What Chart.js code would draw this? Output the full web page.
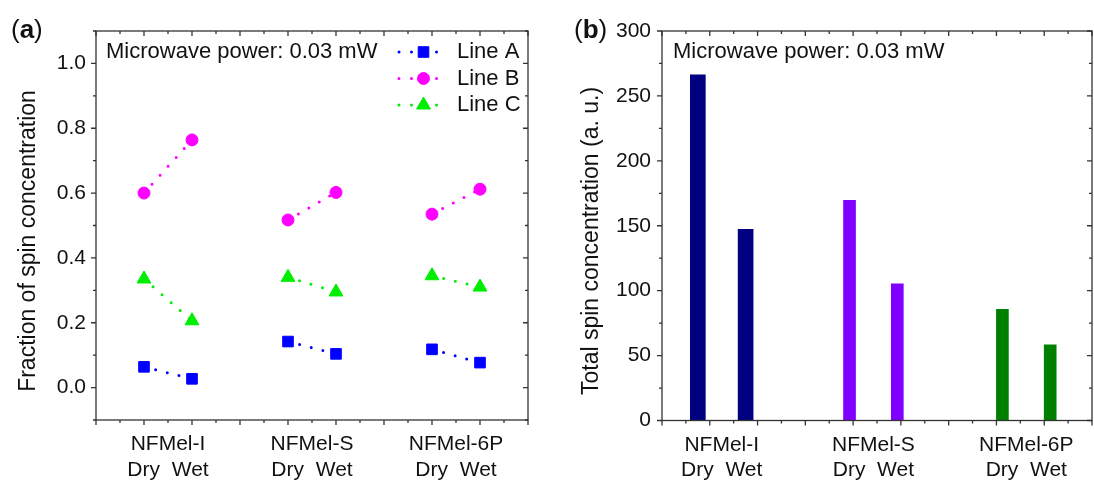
<!DOCTYPE html>
<html>
<head>
<meta charset="utf-8">
<script src="https://cdn.jsdelivr.net/npm/chart.js@4.4.0/dist/chart.umd.min.js"></script>
<style>
    body { margin: 0; background: #fff; }
    .box { position: absolute; top: 0; width: 547px; height: 483px; }
    #boxA { left: 0; }
    #boxB { left: 547px; }
</style>
</head>
<body>
<div class="box" id="boxA"><canvas id="chartA"></canvas></div>
<div class="box" id="boxB"><canvas id="chartB"></canvas></div>
<script>
// ---------------- DATA ----------------
const groups = ["NFMel-I", "NFMel-S", "NFMel-6P"];
const states = "Dry  Wet";
const note = "Microwave power: 0.03 mW";

// panel (a): Dry / Wet positions on the x axis
const xA = [2, 4, 8, 10, 14, 16];
const lineA = [0.064, 0.027, 0.142, 0.104, 0.118, 0.077];
const lineB = [0.600, 0.764, 0.517, 0.602, 0.535, 0.612];
const lineC = [0.335, 0.206, 0.340, 0.295, 0.345, 0.310];
const seriesNames = ["Line A", "Line B", "Line C"];
const ticksA = [0, 0.2, 0.4, 0.6, 0.8, 1.0];

// panel (b)
const xB = [1.5, 3.5, 7.85, 9.85, 14.25, 16.25];
const totalSpin = [266.2, 147.3, 169.6, 105.2, 85.7, 58.2];
const ticksB = [0, 50, 100, 150, 200, 250, 300];

const FONT = "'Liberation Sans', Arial, sans-serif";
const INK = "#111";
Chart.defaults.font.family = FONT;
Chart.defaults.color = INK;

const lineColors = ["#0000ff", "#ff00ff", "#00ee00"];
const pointStyles = ["rect", "circle", "triangle"];
const pointSizes = [7.5, 6, 8];
const barColors = ["#000080", "#8000ff", "#008000"];
const barWidths = [15, 12, 12];

function pairCenters(xs) {
    return groups.map((g, i) => (xs[2 * i] + xs[2 * i + 1]) / 2);
}

// ---------------- FRAME + TICKS ----------------
const framePlugin = {
    id: "frame",
    afterDraw(chart, args, opts) {
        const ctx = chart.ctx, a = chart.chartArea;
        const xs = chart.scales.x, ys = chart.scales.y;
        ctx.save();
        ctx.strokeStyle = "#333";
        ctx.lineWidth = 1.3;
        ctx.strokeRect(a.left, a.top, a.right - a.left, a.bottom - a.top);
        ctx.beginPath();
        // x ticks: outward at bottom, inward at top
        let n = Math.round((xs.max - xs.min) / opts.xStep);
        for (let i = 0; i <= n; i++) {
            const px = xs.getPixelForValue(xs.min + i * opts.xStep);
            const len = i % 2 === 0 ? 5 : 3;
            ctx.moveTo(px, a.bottom); ctx.lineTo(px, a.bottom + len);
            ctx.moveTo(px, a.top); ctx.lineTo(px, a.top + len);
        }
        // y ticks: outward at left, inward at right
        n = Math.round((ys.max - ys.min) / opts.yStep);
        for (let i = 0; i <= n; i++) {
            const v = ys.min + i * opts.yStep;
            const r = v / opts.yMajor;
            const major = Math.abs(r - Math.round(r)) < 1e-6;
            const py = ys.getPixelForValue(v);
            const len = major ? 5 : 3;
            ctx.moveTo(a.left, py); ctx.lineTo(a.left - len, py);
            ctx.moveTo(a.right, py); ctx.lineTo(a.right - len, py);
        }
        ctx.stroke();
        ctx.restore();
    }
};

// ---------------- LABELS / LEGEND ----------------
const decorPlugin = {
    id: "decor",
    afterDraw(chart, args, opts) {
        const ctx = chart.ctx;
        ctx.save();
        ctx.fillStyle = INK;
        ctx.textBaseline = "middle";
        // panel letter, "(" normal, letter bold, ")" normal
        let x = opts.letterX;
        ctx.font = "26px " + FONT;
        ctx.fillText("(", x, 31); x += ctx.measureText("(").width;
        ctx.font = "bold 26px " + FONT;
        ctx.fillText(opts.letter, x, 31); x += ctx.measureText(opts.letter).width;
        ctx.font = "26px " + FONT;
        ctx.fillText(")", x, 31);

        ctx.font = "22px " + FONT;
        ctx.fillText(note, opts.noteX, 52);

        // y axis title (rotated), centred a bit below the axis middle like the original
        ctx.save();
        ctx.font = "23px " + FONT;
        ctx.textAlign = "center";
        ctx.translate(opts.titleX, 241);
        ctx.rotate(-Math.PI / 2);
        ctx.fillText(opts.title, 0, 0);
        ctx.restore();

        if (opts.legend) {
            const rows = [52, 78.5, 105];
            chart.data.datasets.forEach((ds, i) => {
                const y = rows[i];
                ctx.save();
                ctx.strokeStyle = ds.borderColor;
                ctx.lineWidth = 3;
                ctx.lineCap = "round";
                ctx.setLineDash([0, 12.5]);
                ctx.beginPath();
                ctx.moveTo(399, y); ctx.lineTo(438, y);
                ctx.stroke();
                ctx.restore();
                ctx.fillStyle = ds.pointBackgroundColor;
                ctx.strokeStyle = ds.pointBackgroundColor;
                Chart.helpers.drawPoint(ctx, {
                    pointStyle: ds.pointStyle, radius: ds.pointRadius, borderWidth: 1
                }, 423.5, y);
                ctx.fillStyle = INK;
                ctx.fillText(ds.label, 457, y);
            });
        }
        ctx.restore();
    }
};

function groupTicks(centers) {
    return function (scale) {
        scale.ticks = centers.map(v => ({ value: v }));
    };
}

const noGrid = { display: false, drawTicks: false, tickLength: 0 };

// ---------------- PANEL (a) ----------------
function initChartA() {
    const series = [lineA, lineB, lineC];
    const datasets = series.map((vals, s) => ({
        label: seriesNames[s],
        data: vals.map((v, i) => ({ x: xA[i], y: v })),
        borderColor: lineColors[s],
        borderWidth: 3,
        borderDash: [0, 12],
        borderCapStyle: "round",
        pointStyle: pointStyles[s],
        pointRadius: pointSizes[s],
        pointBackgroundColor: lineColors[s],
        pointBorderColor: lineColors[s],
        pointBorderWidth: 1,
        segment: {
            borderColor: c => Math.floor(c.p0DataIndex / 2) === Math.floor(c.p1DataIndex / 2)
                ? lineColors[s] : "rgba(0,0,0,0)"
        }
    }));

    new Chart(document.getElementById("chartA"), {
        type: "line",
        data: { datasets: datasets },
        options: {
            responsive: true,
            maintainAspectRatio: false,
            animation: false,
            layout: { padding: { left: 0, top: 31, right: 19, bottom: 0 } },
            plugins: {
                legend: { display: false },
                tooltip: { enabled: false },
                frame: { xStep: 1, yStep: 0.1, yMajor: 0.2 },
                decor: {
                    letter: "a", letterX: 11, noteX: 106, legend: true,
                    title: "Fraction of spin concentration", titleX: 29
                }
            },
            scales: {
                x: {
                    type: "linear", min: 0, max: 18,
                    grid: noGrid, border: { display: false },
                    afterBuildTicks: groupTicks(pairCenters(xA)),
                    afterFit: s => { s.height = 63; },
                    ticks: {
                        autoSkip: false, maxRotation: 0, padding: 12,
                        font: { size: 21 }, color: INK,
                        callback: (v, i) => [groups[i], states]
                    }
                },
                y: {
                    min: -0.1, max: 1.1,
                    grid: noGrid, border: { display: false },
                    afterBuildTicks: s => { s.ticks = ticksA.map(v => ({ value: v })); },
                    afterFit: s => { s.width = 96; },
                    ticks: {
                        padding: 10, font: { size: 21 }, color: INK,
                        callback: v => v.toFixed(1)
                    }
                }
            }
        },
        plugins: [framePlugin, decorPlugin]
    });
}

// ---------------- PANEL (b) ----------------
function initChartB() {
    const datasets = barColors.map((c, g) => ({
        label: groups[g],
        data: [0, 1].map(k => ({ x: xB[2 * g + k], y: totalSpin[2 * g + k] })),
        backgroundColor: c,
        barThickness: barWidths[g],
        grouped: false
    }));

    new Chart(document.getElementById("chartB"), {
        type: "bar",
        data: { datasets: datasets },
        options: {
            responsive: true,
            maintainAspectRatio: false,
            animation: false,
            layout: { padding: { left: 0, top: 31, right: 2, bottom: 0 } },
            plugins: {
                legend: { display: false },
                tooltip: { enabled: false },
                frame: { xStep: 1, yStep: 25, yMajor: 50 },
                decor: {
                    letter: "b", letterX: 27, noteX: 126, legend: false,
                    title: "Total spin concentration (a. u.)", titleX: 45
                }
            },
            scales: {
                x: {
                    type: "linear", min: 0, max: 18, offset: false,
                    grid: noGrid, border: { display: false },
                    afterBuildTicks: groupTicks(pairCenters(xB)),
                    afterFit: s => { s.height = 62.5; },
                    ticks: {
                        autoSkip: false, maxRotation: 0, padding: 12,
                        font: { size: 21 }, color: INK,
                        callback: (v, i) => [groups[i], states]
                    }
                },
                y: {
                    min: 0, max: 300,
                    grid: noGrid, border: { display: false },
                    afterBuildTicks: s => { s.ticks = ticksB.map(v => ({ value: v })); },
                    afterFit: s => { s.width = 115; },
                    ticks: { padding: 11, font: { size: 21 }, color: INK }
                }
            }
        },
        plugins: [framePlugin, decorPlugin]
    });
}

// ---------------- INIT ----------------
initChartA();
initChartB();
</script>
</body>
</html>
